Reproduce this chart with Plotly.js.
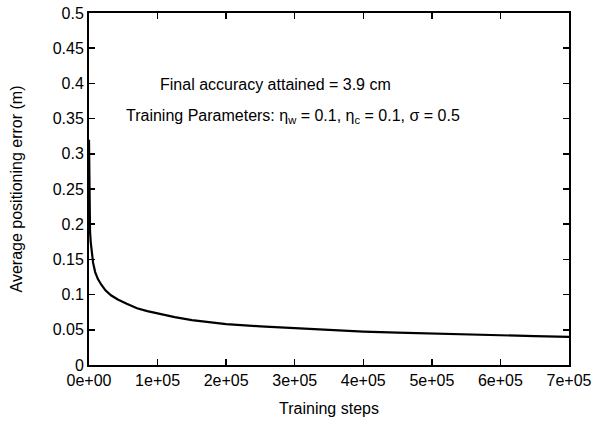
<!DOCTYPE html>
<html><head><meta charset="utf-8">
<script src="https://cdn.plot.ly/plotly-3.0.1.min.js"></script>
<style>html,body{margin:0;padding:0;background:#fff}#c{width:598px;height:422px}</style>
</head><body><div id="c"></div>
<script>
const steps = [0, 300, 800, 1500, 2500, 4000, 6000, 9000, 13000, 18000, 24000, 32000, 42000, 55000, 70000, 85000, 100000, 125000, 150000, 175000, 200000, 250000, 300000, 350000, 400000, 450000, 500000, 550000, 600000, 650000, 700000];
const errors = [0.32, 0.26, 0.215, 0.19, 0.175, 0.158, 0.145, 0.132, 0.122, 0.114, 0.106, 0.099, 0.093, 0.087, 0.0805, 0.0765, 0.073, 0.068, 0.0638, 0.0605, 0.0582, 0.0548, 0.0522, 0.0497, 0.0475, 0.046, 0.0445, 0.0432, 0.042, 0.041, 0.040];
const xTickVals = [0, 100000, 200000, 300000, 400000, 500000, 600000, 700000];
const xTickText = ["0e+00", "1e+05", "2e+05", "3e+05", "4e+05", "5e+05", "6e+05", "7e+05"];
const note1 = "Final accuracy attained = 3.9 cm";
const note2 = "Training Parameters: \u03b7<sub>w</sub> = 0.1, \u03b7<sub>c</sub> = 0.1, \u03c3 = 0.5";

const font = {family: "Liberation Sans, Arial, sans-serif", size: 16, color: "#000"};
Plotly.newPlot("c", [{
  x: steps, y: errors, type: "scatter", mode: "lines",
  line: {color: "#000", width: 2.2}
}], {
  width: 598, height: 422,
  margin: {l: 89, r: 29, t: 13, b: 57},
  paper_bgcolor: "#fff", plot_bgcolor: "#fff",
  showlegend: false,
  font: font,
  xaxis: {
    range: [0, 700000], tickvals: xTickVals, ticktext: xTickText,
    ticks: "inside", ticklen: 6, tickwidth: 1.5, tickcolor: "#000",
    showline: true, linecolor: "#000", linewidth: 2, mirror: "ticks",
    showgrid: false, zeroline: false,
    tickfont: font,
    title: {text: "Training steps", font: font, standoff: 15}
  },
  yaxis: {
    range: [0, 0.5], dtick: 0.05, tick0: 0,
    ticks: "inside", ticklen: 6, tickwidth: 1.5, tickcolor: "#000",
    showline: true, linecolor: "#000", linewidth: 2, mirror: "ticks",
    showgrid: false, zeroline: false,
    tickfont: font,
    title: {text: "Average positioning error (m)", font: font, standoff: 26}
  },
  annotations: [
    {text: note1, xref: "paper", yref: "paper", x: 0.144, y: 0.798, xanchor: "left", yanchor: "middle", showarrow: false, font: font},
    {text: note2, xref: "paper", yref: "paper", x: 0.073, y: 0.707, xanchor: "left", yanchor: "middle", showarrow: false, font: font}
  ]
}, {displayModeBar: false, staticPlot: true});
</script></body></html>
